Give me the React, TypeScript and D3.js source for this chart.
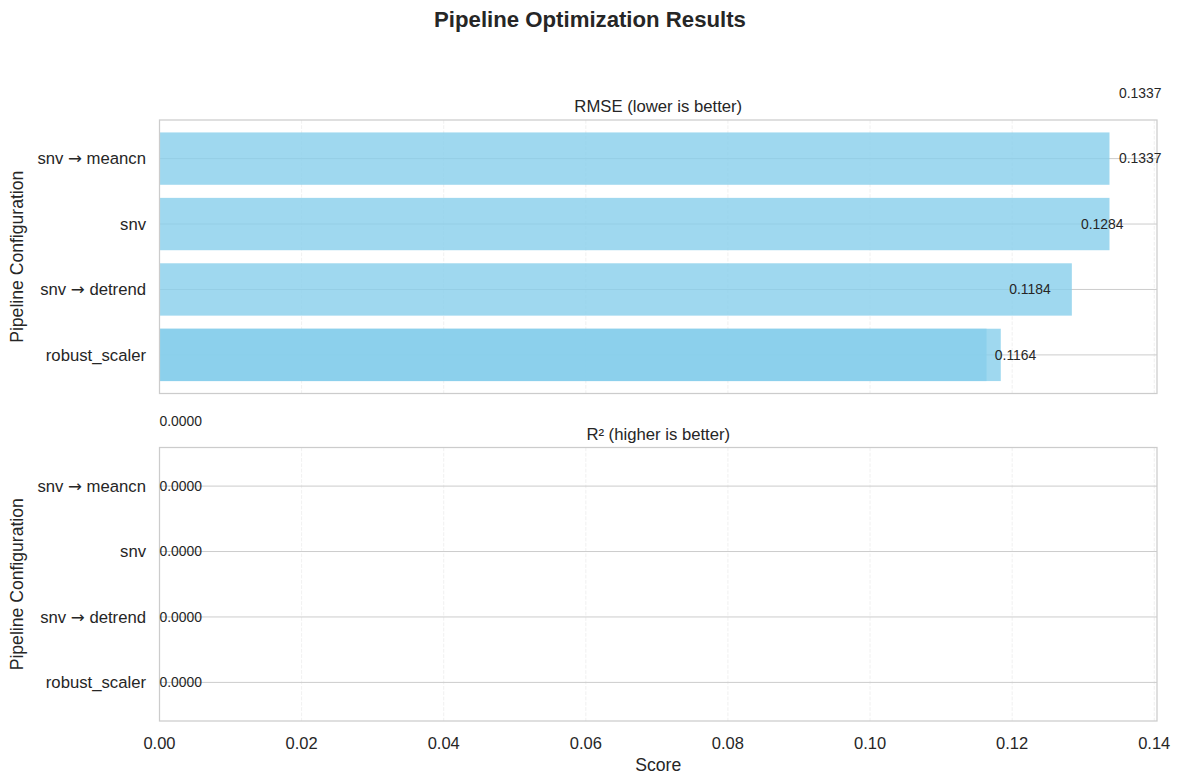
import * as d3 from "d3";

// one entry per evaluated pipeline, sorted by RMSE
const pipelines = ["robust_scaler", "robust_scaler", "snv → detrend", "snv", "snv → meancn"];
const rmseScores = [0.1164, 0.1184, 0.1284, 0.1337, 0.1337];
const r2Scores = [0.0, 0.0, 0.0, 0.0, 0.0];
const xTicks = [0, 0.02, 0.04, 0.06, 0.08, 0.1, 0.12, 0.14];

const W = 1180;
const H = 784;
const left = 159.5;
const right = 1157;
const panelH = 273.5;
const panelTops = [120, 447.5];

const textColor = "#262626";
const gridColor = "#cccccc";
const barColor = "#87ceeb";
const font = "'Liberation Sans', Arial, Helvetica, sans-serif";

const fmt = d3.format(".4f");

const x = d3.scaleLinear()
  .domain([0, (d3.max(rmseScores) as number) * 1.05])
  .range([left, right]);

// categorical y axis: duplicate names share one row
const categories = Array.from(new Set(pipelines));

const panels = [
  { title: "RMSE (lower is better)", values: rmseScores },
  { title: "R² (higher is better)", values: r2Scores },
];

// arrow glyph comes from DejaVu, like the fallback font does
function Label({ text }: { text: string }) {
  const parts = text.split("→");
  return (
    <>
      {parts.map((p, i) => (
        <tspan key={i}>
          {i > 0 && <tspan fontFamily="'DejaVu Sans'">→</tspan>}
          {p}
        </tspan>
      ))}
    </>
  );
}

function Panel({ top, title, values, showX }: { top: number; title: string; values: number[]; showX: boolean }) {
  const bottom = top + panelH;
  const y = d3.scaleLinear()
    .domain([-0.59, categories.length - 1 + 0.59])
    .range([bottom, top]);

  return (
    <g>
      {/* dashed vertical grid */}
      {xTicks.map((t) => (
        <line key={"vx" + t} x1={x(t)} x2={x(t)} y1={top} y2={bottom}
          stroke={gridColor} strokeOpacity={0.3} strokeDasharray="3.7,1.6" strokeWidth={1} />
      ))}
      {/* solid horizontal grid at category rows */}
      {categories.map((c, i) => (
        <line key={"hy" + c} x1={left} x2={right} y1={y(i)} y2={y(i)} stroke={gridColor} strokeWidth={1} />
      ))}

      {/* bars */}
      {values.map((v, i) => {
        const ci = categories.indexOf(pipelines[i]);
        const y0 = y(ci + 0.4);
        const y1 = y(ci - 0.4);
        return (
          <rect key={"b" + i} x={x(0)} y={y0} width={Math.max(0, x(v) - x(0))} height={y1 - y0}
            fill={barColor} fillOpacity={0.8} />
        );
      })}

      {/* spines */}
      <rect x={left} y={top} width={right - left} height={panelH} fill="none" stroke={gridColor} strokeWidth={1.25} />

      {/* value labels, placed by list position */}
      {values.map((v, i) => (
        <text key={"v" + i} x={x(v * 1.01)} y={y(i)} dy="0.35em" fontSize={13.9} fill={textColor} fontFamily={font}>
          {fmt(v)}
        </text>
      ))}

      {/* y tick labels */}
      {categories.map((c, i) => (
        <text key={"yl" + c} x={146} y={y(i)} dy="0.35em" textAnchor="end" fontSize={16.7} fill={textColor} fontFamily={font}>
          <Label text={c} />
        </text>
      ))}

      <text x={(left + right) / 2} y={top - 8} textAnchor="middle" fontSize={16.7} fill={textColor} fontFamily={font}>
        {title}
      </text>

      <text transform={`translate(23,${(top + bottom) / 2}) rotate(-90)`} textAnchor="middle" fontSize={17.6}
        fill={textColor} fontFamily={font}>
        Pipeline Configuration
      </text>

      {showX && xTicks.map((t) => (
        <text key={"xt" + t} x={x(t)} y={bottom + 28} textAnchor="middle" fontSize={16.5} fill={textColor} fontFamily={font}>
          {d3.format(".2f")(t)}
        </text>
      ))}
      {showX && (
        <text x={(left + right) / 2} y={bottom + 50} textAnchor="middle" fontSize={17.6} fill={textColor} fontFamily={font}>
          Score
        </text>
      )}
    </g>
  );
}

export default function App() {
  return (
    <svg width={W} height={H} viewBox={`0 0 ${W} ${H}`} style={{ position: "absolute", left: 0, top: 0, background: "#fff" }}>
      <rect width={W} height={H} fill="#fff" />
      <text x={590} y={27} textAnchor="middle" fontSize={22.2} fontWeight="bold" fill={textColor} fontFamily={font}>
        Pipeline Optimization Results
      </text>
      {panels.map((p, i) => (
        <Panel key={p.title} top={panelTops[i]} title={p.title} values={p.values} showX={i === panels.length - 1} />
      ))}
    </svg>
  );
}
